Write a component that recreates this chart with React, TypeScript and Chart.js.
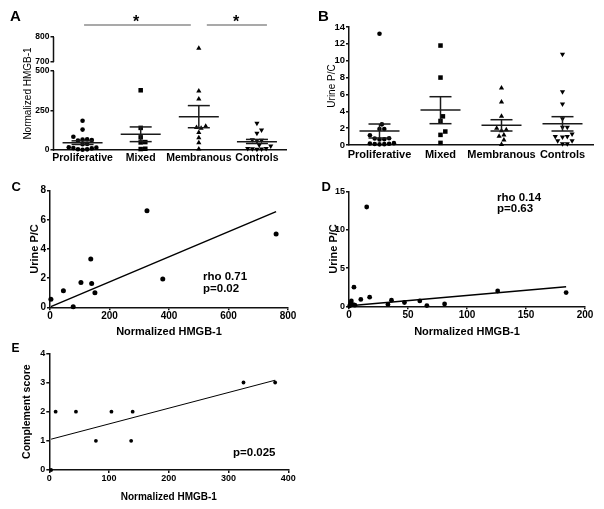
import React, { useEffect, useRef } from "react";
import { Chart, registerables } from "chart.js";

Chart.register(...registerables);

const FONT = "'Liberation Sans', Arial, Helvetica, sans-serif";
Chart.defaults.font.family = FONT;
Chart.defaults.color = "#000";

// ---------------- data ----------------
const categories = ["Proliferative", "Mixed", "Membranous", "Controls"];

// Panel A: Normalized HMGB-1 per group
const hmgbProliferative = [185, 129, 84, 68, 66, 63, 60, 38, 36, 17, 15, 12, 10, 5, 4, 2];
const hmgbMixed = [378, 140, 80, 50, 48, 8, 6];
const hmgbMembranous = [755, 373, 323, 150, 142, 138, 110, 78, 46, 6];
const hmgbControls = [169, 127, 106, 65, 62, 60, 32, 25, 10, 10, 8, 6, 5];
const hmgbMean = [46, 99, 211, 53];
const hmgbSemHigh = [58, 146, 281, 67];
const hmgbSemLow = [35, 53, 141, 41];
const hmgbTicks = [0, 250, 500, 700, 800];
const hmgbSegments = [
  [0, 500],
  [700, 800],
];
const sigPairs = [
  [0, 2],
  [2, 3],
];

// Panel B: Urine P/C per group
const pcProliferative = [13.2, 2.45, 1.9, 1.9, 1.15, 0.8, 0.78, 0.68, 0.66, 0.22, 0.18, 0.15, 0.12, 0.1, 0.08];
const pcMixed = [11.8, 8.0, 3.4, 2.85, 1.6, 1.2, 0.25];
const pcMembranous = [6.75, 5.1, 3.4, 2.0, 1.8, 1.7, 1.2, 1.05, 0.6, 0.05];
const pcControls = [10.76, 6.33, 4.86, 3.1, 2.1, 2.1, 1.3, 1.0, 1.0, 0.95, 0.5, 0.5, 0.15, 0.15];
const pcMean = [1.66, 4.15, 2.33, 2.53];
const pcSemHigh = [2.49, 5.73, 3.0, 3.36];
const pcSemLow = [0.83, 2.53, 1.66, 1.66];

// Panel C: membranous HMGB-1 vs urine P/C
const cHmgb = [3, 45, 78, 104, 137, 140, 151, 326, 379, 760];
const cPc = [0.55, 1.14, 0.04, 1.71, 3.31, 1.64, 1.0, 6.63, 1.94, 5.03];
const cFit = { intercept: 0.02, slope: 0.00861 };

// Panel D: proliferative HMGB-1 vs urine P/C
const dHmgb = [15, 4.2, 10, 17.5, 36, 33, 47, 60, 66, 81, 126, 184, 2, 1.5, 3.5, 5, 0.5];
const dPc = [13.0, 2.5, 0.9, 1.2, 0.8, 0.25, 0.5, 0.7, 0.1, 0.3, 2.0, 1.8, 0.7, 0.4, 0.2, 0.15, 0.05];
const dFit = { intercept: 0.05, slope: 0.0137 };

// Panel E: HMGB-1 vs complement score
const eHmgb = [3, 10.6, 44.6, 78, 104, 137, 139.5, 325, 378];
const eScore = [0, 2, 2, 1, 2, 1, 2, 3, 3];
const eFit = { intercept: 1.04, slope: 0.00539 };

// ---------------- helpers ----------------
const AX = "#111";

// broken axis transform for panel A (0-500 | 700-800)
function aY(v: number) {
  if (v <= 500) return v;
  if (v >= 700) return 557 + (v - 700) * 1.582;
  return 500 + (v - 500) * 0.285;
}
const ident = (v: number) => v;

const markerStyles = [
  { pointStyle: "circle", radius: 2.3, rotation: 0 },
  { pointStyle: "rect", radius: 3.2, rotation: 0 },
  { pointStyle: "triangle", radius: 3, rotation: 0 },
  { pointStyle: "triangle", radius: 3, rotation: 180 },
];

function groupDatasets(groups: number[][], tf: (v: number) => number) {
  return groups.map((vals, gi) => ({
    type: "scatter",
    data: vals.map((v) => ({ x: gi, y: tf(v) })),
    pointStyle: markerStyles[gi].pointStyle,
    pointRadius: markerStyles[gi].radius,
    pointRotation: markerStyles[gi].rotation,
    pointBackgroundColor: "#000",
    pointBorderColor: "#000",
    pointBorderWidth: 0,
    clip: false,
  }));
}

function applySwarm(chart: any, groups: number[][], tf: (v: number) => number, diam: number) {
  const xs = chart.scales.x;
  const ys = chart.scales.y;
  const unit = xs.getPixelForValue(1) - xs.getPixelForValue(0);
  groups.forEach((vals, gi) => {
    const order = vals.map((_, i) => i).sort((a, b) => vals[a] - vals[b]);
    const placed: { dx: number; py: number }[] = [];
    const offs = new Array(vals.length).fill(0);
    order.forEach((idx) => {
      const py = ys.getPixelForValue(tf(vals[idx]));
      for (let k = 0; k < 60; k++) {
        const mag = (Math.ceil(k / 2) * diam) / 2;
        const dx = k === 0 ? 0 : k % 2 ? mag : -mag;
        if (placed.every((p) => Math.hypot(p.dx - dx, p.py - py) >= diam)) {
          placed.push({ dx, py });
          offs[idx] = dx;
          break;
        }
      }
    });
    chart.data.datasets[gi].data = vals.map((v, i) => ({ x: gi + offs[i] / unit, y: tf(v) }));
  });
  chart.update();
}

function meanSemPlugin(means: number[], hi: number[], lo: number[], tf: (v: number) => number) {
  return {
    id: "meanSem",
    afterDatasetsDraw(chart: any) {
      const { ctx } = chart;
      const x = chart.scales.x;
      const y = chart.scales.y;
      ctx.save();
      ctx.strokeStyle = "#1a1a1a";
      ctx.lineWidth = 1.5;
      const seg = (x1: number, y1: number, x2: number, y2: number) => {
        ctx.beginPath();
        ctx.moveTo(x1, y1);
        ctx.lineTo(x2, y2);
        ctx.stroke();
      };
      means.forEach((m, i) => {
        const cx = x.getPixelForValue(i);
        const ym = y.getPixelForValue(tf(m));
        const yh = y.getPixelForValue(tf(hi[i]));
        const yl = y.getPixelForValue(tf(lo[i]));
        seg(cx - 20, ym, cx + 20, ym);
        seg(cx - 11, yh, cx + 11, yh);
        seg(cx - 11, yl, cx + 11, yl);
        seg(cx, yh, cx, yl);
      });
      ctx.restore();
    },
  };
}

// broken y axis line for panel A
const brokenAxisPlugin = {
  id: "brokenAxis",
  afterDraw(chart: any) {
    const { ctx, chartArea } = chart;
    const y = chart.scales.y;
    ctx.save();
    ctx.strokeStyle = AX;
    ctx.lineWidth = 1.5;
    hmgbSegments.forEach(([a, b]) => {
      ctx.beginPath();
      ctx.moveTo(chartArea.left, y.getPixelForValue(aY(a)) + (a === 0 ? 0.75 : 0));
      ctx.lineTo(chartArea.left, y.getPixelForValue(aY(b)));
      ctx.stroke();
    });
    ctx.restore();
  },
};

const sigInset = [
  [1.5, -8],
  [8, 10],
];
const sigPlugin = {
  id: "sig",
  afterDraw(chart: any) {
    const { ctx, chartArea } = chart;
    const x = chart.scales.x;
    const yy = chartArea.top - 12;
    ctx.save();
    ctx.strokeStyle = "#555";
    ctx.lineWidth = 1.2;
    sigPairs.forEach(([a, b], k) => {
      ctx.beginPath();
      ctx.moveTo(x.getPixelForValue(a) + sigInset[k][0], yy);
      ctx.lineTo(x.getPixelForValue(b) + sigInset[k][1], yy);
      ctx.stroke();
    });
    ctx.restore();
  },
};

function yAxis(opts: any) {
  return {
    type: "linear",
    min: opts.min,
    max: opts.max,
    afterFit: (s: any) => {
      s.width = opts.width;
    },
    afterBuildTicks: opts.tickValues
      ? (s: any) => {
          s.ticks = opts.tickValues.map((v: number) => ({ value: v }));
        }
      : undefined,
    border: { display: opts.border !== false, color: AX, width: 1.5 },
    grid: { drawOnChartArea: false, drawTicks: true, tickLength: 3, color: AX, lineWidth: 1.5 },
    ticks: {
      stepSize: opts.step,
      callback: opts.callback,
      font: { size: opts.tickSize, weight: "bold" },
      padding: 1,
      autoSkip: false,
    },
    title: {
      display: true,
      text: opts.title,
      font: { size: opts.titleSize, weight: opts.titleBold ? "bold" : "normal" },
      padding: { top: opts.titlePad, bottom: 0 },
    },
  };
}

function xLinear(opts: any) {
  return {
    type: "linear",
    min: opts.min,
    max: opts.max,
    afterFit: (s: any) => {
      s.height = opts.height;
    },
    border: { display: true, color: AX, width: 1.5 },
    grid: { drawOnChartArea: false, drawTicks: true, tickLength: 3, color: AX, lineWidth: 1.5 },
    ticks: {
      stepSize: opts.step,
      font: { size: opts.tickSize, weight: "bold" },
      padding: opts.tickPad,
      maxRotation: 0,
      autoSkip: false,
    },
    title: {
      display: true,
      text: "Normalized HMGB-1",
      font: { size: opts.titleSize, weight: "bold" },
      padding: { top: 0, bottom: opts.titlePad },
    },
  };
}

function xCategory(opts: any) {
  return {
    type: "linear",
    min: -0.5,
    max: 3.5,
    afterFit: (s: any) => {
      s.height = opts.height;
    },
    afterBuildTicks: (s: any) => {
      s.ticks = categories.map((_, i) => ({ value: i }));
    },
    border: { display: true, color: AX, width: 1.5 },
    grid: { display: false, drawTicks: false },
    ticks: {
      callback: (v: number) => categories[Math.round(v)],
      font: { size: opts.tickSize, weight: "bold" },
      padding: opts.tickPad,
      maxRotation: 0,
      autoSkip: false,
    },
  };
}

const baseOptions = (padding: any) => ({
  responsive: false,
  animation: false,
  devicePixelRatio: 1,
  layout: { padding },
  plugins: { legend: { display: false }, tooltip: { enabled: false } },
});

function fitLine(xs: number[], fit: { intercept: number; slope: number }, width: number) {
  const x0 = Math.min(...xs);
  const x1 = Math.max(...xs);
  return {
    type: "line",
    data: [
      { x: x0, y: fit.intercept + fit.slope * x0 },
      { x: x1, y: fit.intercept + fit.slope * x1 },
    ],
    borderColor: "#000",
    borderWidth: width,
    pointRadius: 0,
    fill: false,
  };
}

function scatterSet(xs: number[], ys: number[], r: number) {
  return {
    type: "scatter",
    data: xs.map((x, i) => ({ x, y: ys[i] })),
    pointStyle: "circle",
    pointRadius: r,
    pointBackgroundColor: "#000",
    pointBorderColor: "#000",
    pointBorderWidth: 0,
    clip: false,
  };
}

// ---------------- panel builders ----------------
const groupsA = [hmgbProliferative, hmgbMixed, hmgbMembranous, hmgbControls];
const groupsB = [pcProliferative, pcMixed, pcMembranous, pcControls];

function buildA() {
  return {
    config: {
      type: "scatter",
      data: { datasets: groupDatasets(groupsA, aY) },
      options: {
        ...baseOptions({ top: 37, right: 14, left: 0, bottom: 0 }),
        scales: {
          x: xCategory({ height: 20, tickSize: 10.5, tickPad: 2 }),
          y: yAxis({
            min: 0,
            max: aY(800),
            width: 53.5,
            border: false,
            tickValues: hmgbTicks.map(aY),
            callback: (_v: number, i: number) => String(hmgbTicks[i]),
            tickSize: 8.5,
            title: "Normalized HMGB-1",
            titleSize: 10,
            titleBold: false,
            titlePad: 22,
          }),
        },
      },
      plugins: [meanSemPlugin(hmgbMean, hmgbSemHigh, hmgbSemLow, aY), sigPlugin, brokenAxisPlugin],
    },
    after: (c: any) => applySwarm(c, groupsA, aY, 4.6),
  };
}

function buildB() {
  return {
    config: {
      type: "scatter",
      data: { datasets: groupDatasets(groupsB, ident) },
      options: {
        ...baseOptions({ top: 27, right: 11, left: 0, bottom: 0 }),
        scales: {
          x: xCategory({ height: 25, tickSize: 11, tickPad: 3 }),
          y: yAxis({
            min: 0,
            max: 14,
            step: 2,
            width: 49,
            tickSize: 9.5,
            title: "Urine P/C",
            titleSize: 10,
            titleBold: false,
            titlePad: 26,
          }),
        },
      },
      plugins: [meanSemPlugin(pcMean, pcSemHigh, pcSemLow, ident)],
    },
    after: (c: any) => applySwarm(c, groupsB, ident, 4.8),
  };
}

function buildC() {
  return {
    config: {
      type: "scatter",
      data: { datasets: [scatterSet(cHmgb, cPc, 2.5), fitLine(cHmgb, cFit, 1.5)] },
      options: {
        ...baseOptions({ top: 20.7, right: 12, left: 0, bottom: 0 }),
        scales: {
          x: xLinear({ min: 0, max: 800, step: 200, height: 32.7, tickSize: 10, tickPad: 0, titleSize: 11, titlePad: 1 }),
          y: yAxis({ min: 0, max: 8, step: 2, width: 50, tickSize: 10, title: "Urine P/C", titleSize: 11, titleBold: true, titlePad: 28.4 }),
        },
      },
    },
  };
}

function buildD() {
  return {
    config: {
      type: "scatter",
      data: { datasets: [scatterSet(dHmgb, dPc, 2.4), fitLine(dHmgb, dFit, 1.5)] },
      options: {
        ...baseOptions({ top: 21.7, right: 19, left: 0, bottom: 0 }),
        scales: {
          x: xLinear({ min: 0, max: 200, step: 50, height: 33.7, tickSize: 10, tickPad: 0, titleSize: 11, titlePad: 1 }),
          y: yAxis({ min: 0, max: 15, step: 5, width: 49, tickSize: 9, title: "Urine P/C", titleSize: 11, titleBold: true, titlePad: 27 }),
        },
      },
    },
  };
}

function buildE() {
  return {
    config: {
      type: "scatter",
      data: { datasets: [scatterSet(eHmgb, eScore, 1.9), fitLine(eHmgb, eFit, 1)] },
      options: {
        ...baseOptions({ top: 13.3, right: 11.7, left: 0, bottom: 0 }),
        scales: {
          x: xLinear({ min: 0, max: 400, step: 100, height: 39, tickSize: 9, tickPad: 0, titleSize: 10, titlePad: 6 }),
          y: yAxis({ min: 0, max: 4, step: 1, width: 49.3, tickSize: 9, title: "Complement score", titleSize: 10.5, titleBold: true, titlePad: 20.7 }),
        },
      },
    },
  };
}

// ---------------- components ----------------
function ChartCanvas({ left, top, width, height, build }: any) {
  const ref = useRef<HTMLCanvasElement>(null);
  useEffect(() => {
    const { config, after } = build();
    const chart = new Chart(ref.current as HTMLCanvasElement, config as any);
    if (after) after(chart);
    return () => chart.destroy();
  }, []);
  return (
    <canvas
      ref={ref}
      width={width}
      height={height}
      style={{ position: "absolute", left, top, width, height }}
    />
  );
}

function Txt({ x, base, size, bold = true, center = false, children }: any) {
  return (
    <div
      style={{
        position: "absolute",
        left: x,
        top: base - 0.8465 * size,
        fontFamily: FONT,
        fontSize: size,
        lineHeight: `${size}px`,
        fontWeight: bold ? 700 : 400,
        whiteSpace: "nowrap",
        color: "#000",
        transform: center ? "translateX(-50%)" : undefined,
      }}
    >
      {children}
    </div>
  );
}

export default function App() {
  return (
    <div
      style={{
        position: "absolute",
        left: 0,
        top: 0,
        width: 604,
        height: 509,
        overflow: "hidden",
        background: "#fff",
      }}
    >
      <ChartCanvas left={0} top={0} width={300} height={170} build={buildA} />
      <ChartCanvas left={300} top={0} width={304} height={170} build={buildB} />
      <ChartCanvas left={0} top={170} width={300} height={170} build={buildC} />
      <ChartCanvas left={300} top={170} width={304} height={170} build={buildD} />
      <ChartCanvas left={0} top={340} width={300} height={169} build={buildE} />

      <Txt x={10} base={20.7} size={15}>A</Txt>
      <Txt x={318} base={20.7} size={15}>B</Txt>
      <Txt x={11.5} base={190.7} size={13}>C</Txt>
      <Txt x={321.5} base={190.7} size={13}>D</Txt>
      <Txt x={11.5} base={351.7} size={12}>E</Txt>

      <Txt x={136} base={27.5} size={16} center>*</Txt>
      <Txt x={236} base={27.5} size={16} center>*</Txt>

      <Txt x={203} base={280.7} size={11.5}>rho 0.71</Txt>
      <Txt x={203} base={292.7} size={11.5}>p=0.02</Txt>
      <Txt x={497} base={201.7} size={11.5}>rho 0.14</Txt>
      <Txt x={497} base={212.5} size={11.5}>p=0.63</Txt>
      <Txt x={233} base={456.7} size={11.5}>p=0.025</Txt>
    </div>
  );
}
